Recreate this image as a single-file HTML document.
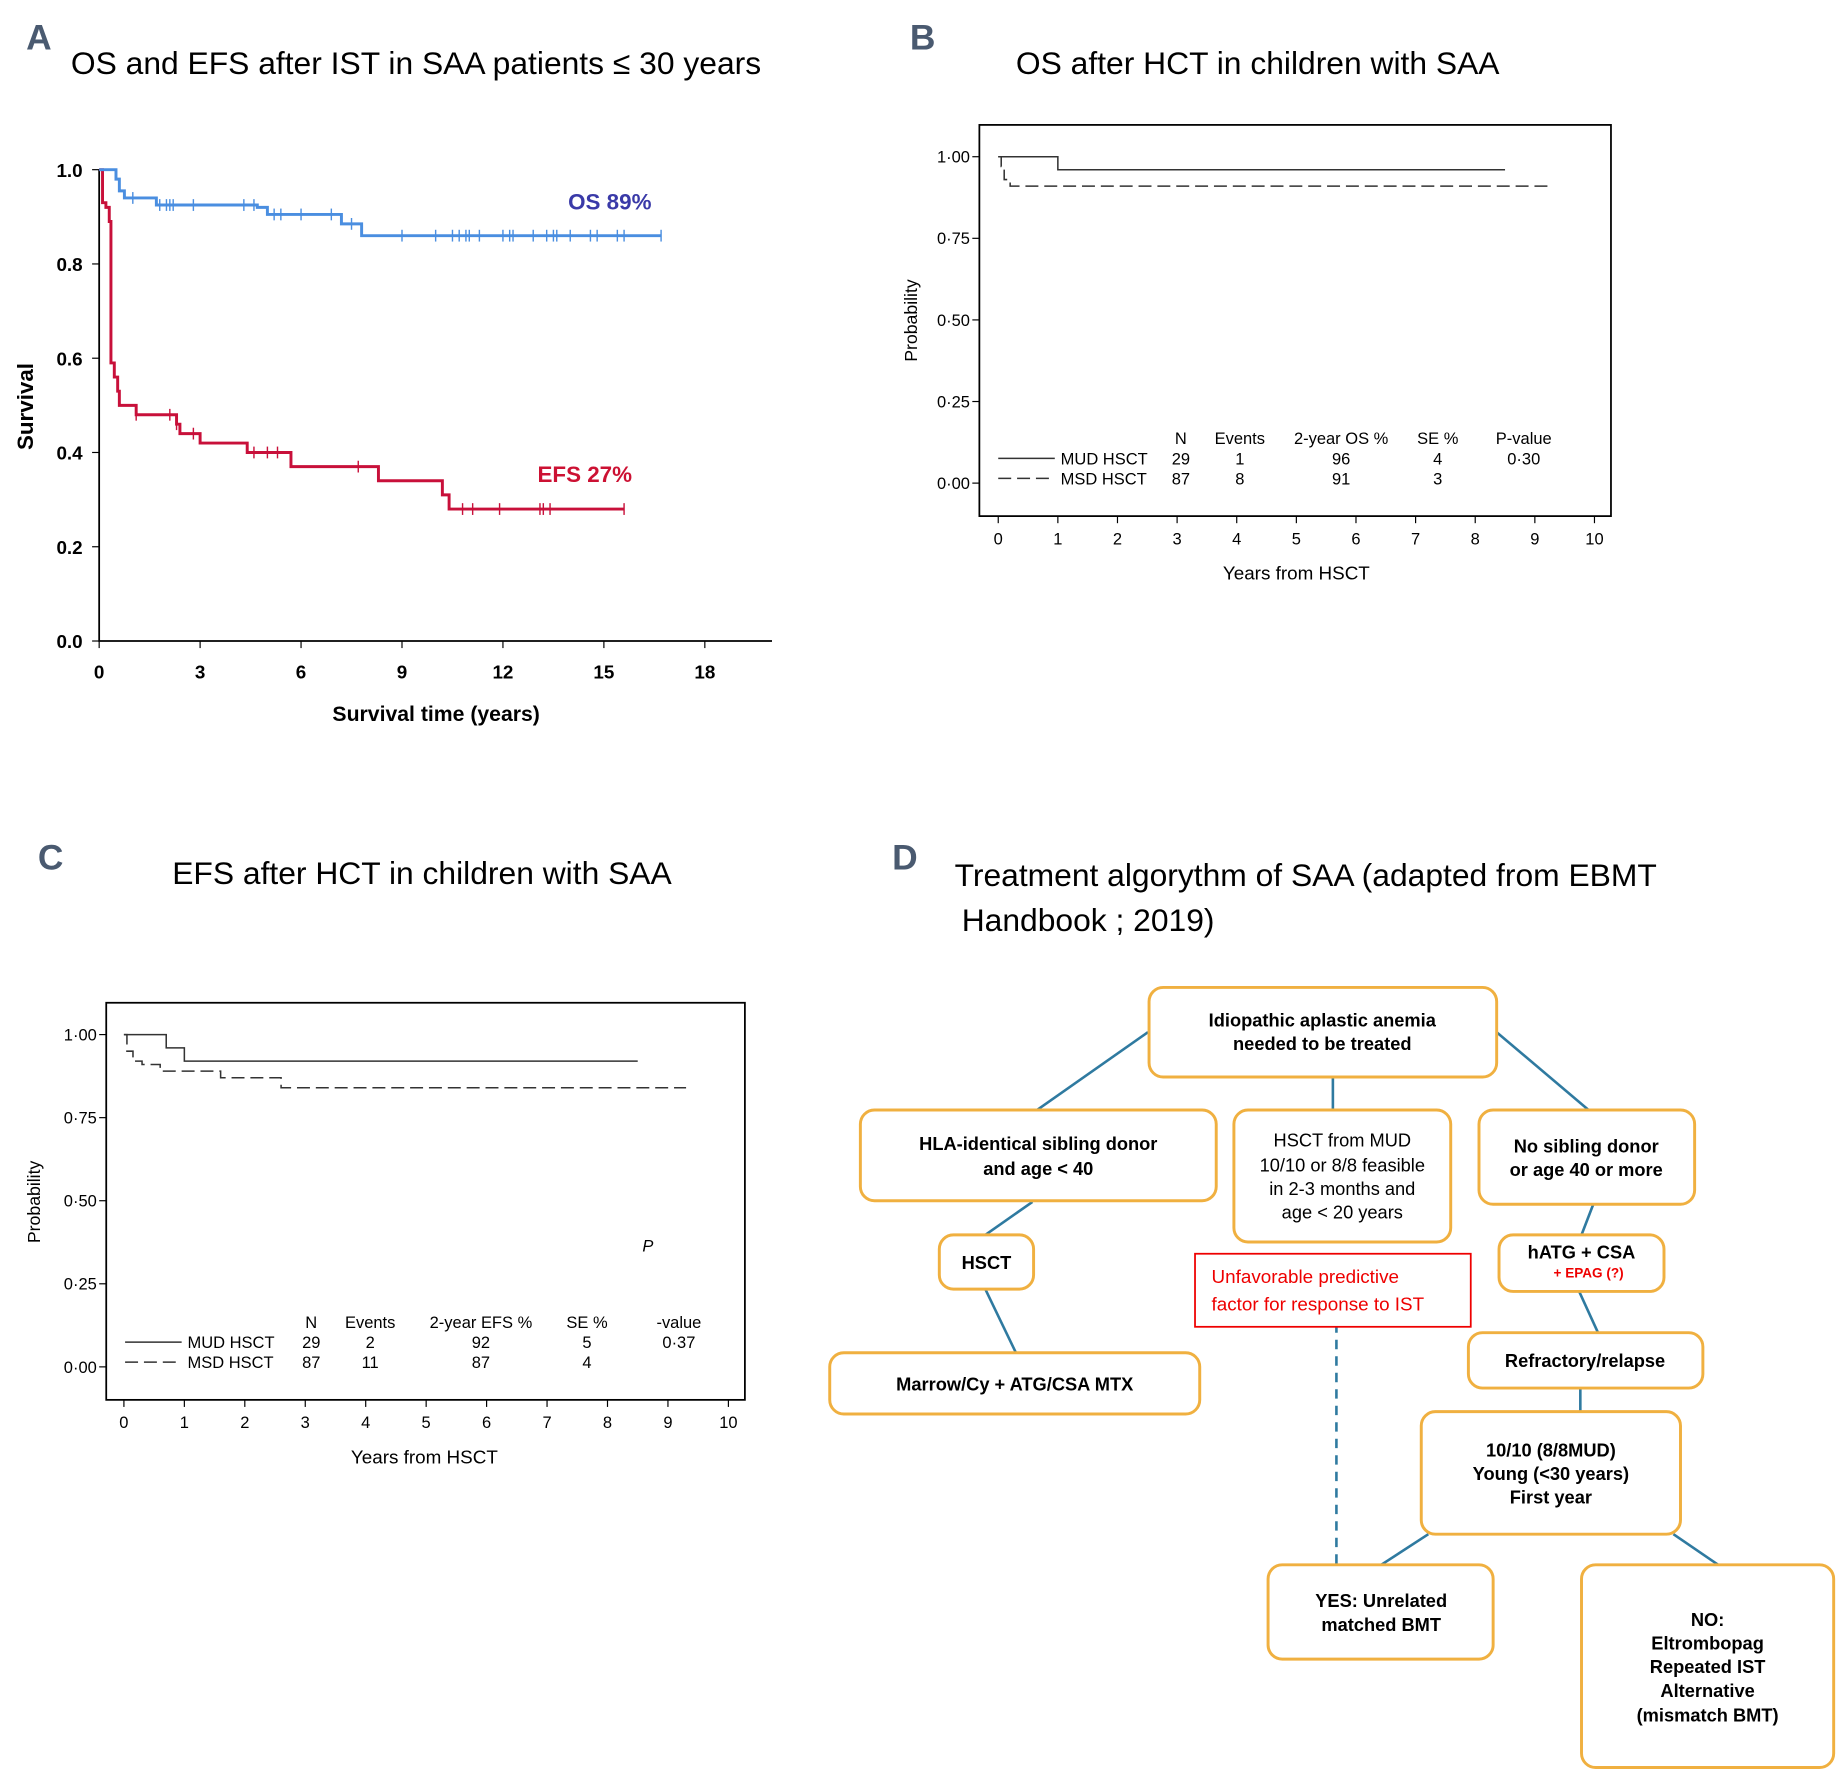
<!DOCTYPE html>
<html><head><meta charset="utf-8">
<style>
html,body{margin:0;padding:0;background:#fff;}
svg{display:block;}
.t{font-family:"Liberation Sans",sans-serif;}
.h{font-family:"Liberation Sans",sans-serif;font-size:27px;fill:#000;}
.L{font-family:"Liberation Sans",sans-serif;font-size:30px;font-weight:bold;fill:#4a5a70;}
.ax{font-family:"Liberation Sans",sans-serif;font-size:14px;fill:#000;}
.bx{fill:#fff;stroke:#f0b040;stroke-width:2.5;}
.ft{font-family:"Liberation Sans",sans-serif;font-size:15.5px;font-weight:bold;fill:#000;text-anchor:middle;}
.fn{font-family:"Liberation Sans",sans-serif;font-size:15.5px;font-weight:normal;fill:#000;text-anchor:middle;}
.ln{stroke:#2f7aa0;stroke-width:2.2;fill:none;}
</style></head>
<body>
<svg id="root" width="1848" height="1784" viewBox="0 0 1568 1514" xmlns="http://www.w3.org/2000/svg">
<g id="pA">
<text class="L" x="22" y="42">A</text>
<text class="h" x="60" y="63">OS and EFS after IST in SAA patients ≤ 30 years</text>
<text class="t" x="28" y="345" font-size="19" font-weight="bold" transform="rotate(-90 28 345)" text-anchor="middle">Survival</text>
<text class="t" x="370" y="612" font-size="18" font-weight="bold" text-anchor="middle">Survival time (years)</text>
<text class="t" x="482" y="178" font-size="19" font-weight="bold" fill="#3a3aa8">OS 89%</text>
<text class="t" x="456" y="409" font-size="19" font-weight="bold" fill="#cc1133">EFS 27%</text>
</g>
<g id="pB">
<text class="L" x="772" y="42">B</text>
<text class="h" x="862" y="63">OS after HCT in children with SAA</text>
<rect x="831" y="106" width="536" height="332" fill="none" stroke="#000" stroke-width="1.5"/>
<text class="t" x="778" y="272" font-size="15" transform="rotate(-90 778 272)" text-anchor="middle">Probability</text>
<text class="t" x="1100" y="492" font-size="16" text-anchor="middle">Years from HSCT</text>
</g>
<g id="pC">
<text class="L" x="32" y="738">C</text>
<text class="h" x="146" y="750">EFS after HCT in children with SAA</text>
<rect x="90" y="851" width="542" height="337" fill="none" stroke="#000" stroke-width="1.5"/>
<text class="t" x="34" y="1020" font-size="15" transform="rotate(-90 34 1020)" text-anchor="middle">Probability</text>
<text class="t" x="360" y="1242" font-size="16" text-anchor="middle">Years from HSCT</text>
</g>
<g id="pD">
<text class="L" x="757" y="738">D</text>
<text class="h" x="810" y="752">Treatment algorythm of SAA (adapted from EBMT</text>
<text class="h" x="816" y="790">Handbook ; 2019)</text>
<g>
<line class="ln" x1="974" y1="876" x2="880" y2="942"/>
<line class="ln" x1="1131" y1="914" x2="1131" y2="942"/>
<line class="ln" x1="1270" y1="876" x2="1348" y2="942"/>
<line class="ln" x1="876" y1="1020" x2="836" y2="1048"/>
<line class="ln" x1="836" y1="1094" x2="862" y2="1148"/>
<line class="ln" x1="1352" y1="1022" x2="1342" y2="1048"/>
<line class="ln" x1="1340" y1="1096" x2="1356" y2="1131"/>
<line class="ln" x1="1341" y1="1178" x2="1341" y2="1198"/>
<line class="ln" x1="1212" y1="1302" x2="1172" y2="1328"/>
<line class="ln" x1="1420" y1="1302" x2="1458" y2="1328"/>
<line class="ln" x1="1134" y1="1095" x2="1134" y2="1328" stroke-dasharray="8,6"/>
</g>
<rect class="bx" x="975" y="838" width="295" height="76" rx="12"/>
<text class="ft" x="1122" y="871">Idiopathic aplastic anemia</text><text class="ft" x="1122" y="891">needed to be treated</text>
<rect class="bx" x="730" y="942" width="302" height="77" rx="12"/>
<text class="ft" x="881" y="976">HLA-identical sibling donor</text><text class="ft" x="881" y="997">and age &lt; 40</text>
<rect class="bx" x="1047" y="942" width="184" height="112" rx="12"/>
<text class="fn" x="1139" y="973">HSCT from MUD</text><text class="fn" x="1139" y="994">10/10 or 8/8 feasible</text><text class="fn" x="1139" y="1014">in 2-3 months and</text><text class="fn" x="1139" y="1034">age &lt; 20 years</text>
<rect class="bx" x="1255" y="942" width="183" height="80" rx="12"/>
<text class="ft" x="1346" y="978">No sibling donor</text><text class="ft" x="1346" y="998">or age 40 or more</text>
<rect class="bx" x="797" y="1048" width="80" height="46" rx="12"/>
<text class="ft" x="837" y="1077">HSCT</text>
<rect x="1014" y="1064" width="234" height="62" fill="#fff" stroke="#e00" stroke-width="1.5"/>
<text class="t" x="1028" y="1089" font-size="16" fill="#e00">Unfavorable predictive</text><text class="t" x="1028" y="1112" font-size="16" fill="#e00">factor for response to IST</text>
<rect class="bx" x="1272" y="1048" width="140" height="48" rx="12"/>
<text class="ft" x="1342" y="1068">hATG + CSA</text><text class="t" x="1348" y="1084" font-size="11.5" font-weight="bold" fill="#e00" text-anchor="middle">+ EPAG (?)</text>
<rect class="bx" x="704" y="1148" width="314" height="52" rx="12"/>
<text class="ft" x="861" y="1180">Marrow/Cy + ATG/CSA MTX</text>
<rect class="bx" x="1246" y="1131" width="199" height="47" rx="12"/>
<text class="ft" x="1345" y="1160">Refractory/relapse</text>
<rect class="bx" x="1206" y="1198" width="220" height="104" rx="12"/>
<text class="ft" x="1316" y="1236">10/10 (8/8MUD)</text><text class="ft" x="1316" y="1256">Young (&lt;30 years)</text><text class="ft" x="1316" y="1276">First year</text>
<rect class="bx" x="1076" y="1328" width="191" height="80" rx="12"/>
<text class="ft" x="1172" y="1364">YES: Unrelated</text><text class="ft" x="1172" y="1384">matched BMT</text>
<rect class="bx" x="1342" y="1328" width="214" height="172" rx="12"/>
<text class="ft" x="1449" y="1380">NO:</text><text class="ft" x="1449" y="1400">Eltrombopag</text><text class="ft" x="1449" y="1420">Repeated IST</text><text class="ft" x="1449" y="1440">Alternative</text><text class="ft" x="1449" y="1461">(mismatch BMT)</text>
</g>
</svg>
<script>
const aXTicks = [0,3,6,9,12,15,18];
const aYTicks = [0.0,0.2,0.4,0.6,0.8,1.0];
const osTimes = [0,0.5,0.6,0.75,1.7,4.7,5.0,7.2,7.8,16.7];
const osSurv  = [1,0.98,0.955,0.94,0.925,0.92,0.905,0.885,0.86,0.86];
const osCens  = [1.0,1.8,2.0,2.1,2.2,2.8,4.3,4.6,5.2,5.4,6.0,6.9,7.5,9.0,10.0,10.5,10.7,10.9,11.0,11.3,12.0,12.2,12.3,12.9,13.3,13.5,13.6,14.0,14.6,14.8,15.4,15.6,16.7];
const efsTimes = [0,0.1,0.2,0.3,0.35,0.45,0.55,0.6,1.1,2.3,2.4,3.0,4.4,5.7,8.3,10.2,10.4,15.6];
const efsSurv  = [1,0.93,0.92,0.89,0.59,0.56,0.53,0.5,0.48,0.46,0.44,0.42,0.40,0.37,0.34,0.31,0.28,0.28];
const efsCens  = [1.1,2.1,2.3,2.8,4.6,5.0,5.3,7.7,10.8,11.1,11.9,13.1,13.2,13.4,15.6];
const bXTicks = [0,1,2,3,4,5,6,7,8,9,10];
const bYTicks = [0,0.25,0.5,0.75,1.0];
const bYLabels = ["0·00","0·25","0·50","0·75","1·00"];
const bMudT = [0,1,8.5];
const bMudS = [1,0.96,0.96];
const bMsdT = [0,0.05,0.1,0.2,9.3];
const bMsdS = [1,0.97,0.93,0.91,0.91];
const cMudT = [0,0.7,1.0,8.5];
const cMudS = [1,0.96,0.92,0.92];
const cMsdT = [0,0.05,0.15,0.3,0.6,1.6,2.6,9.3];
const cMsdS = [1,0.95,0.92,0.91,0.89,0.87,0.84,0.84];

const NS="http://www.w3.org/2000/svg";
const root=document.getElementById('root');
function mk(tag,attrs,parent){const e=document.createElementNS(NS,tag);for(const k in attrs)e.setAttribute(k,attrs[k]);(parent||root).appendChild(e);return e;}
function stepPath(T,S,sx,sy){let d='M'+sx(T[0])+','+sy(S[0]);for(let i=1;i<T.length;i++){d+=' H'+sx(T[i])+' V'+sy(S[i]);}return d;}
function stepVal(T,S,t){let v=S[0];for(let i=0;i<T.length;i++){if(T[i]<=t)v=S[i];}return v;}

const gA=document.getElementById('pA');
const ax=t=>84+t*(598-84)/18, ay=v=>544-v*400;
let e=mk('path',{d:'M'+ax(0)+','+ay(1)+' V'+ay(0)+' H655',stroke:'#000','stroke-width':1.5,fill:'none'},gA);

aXTicks.forEach(t=>{mk('line',{x1:ax(t),x2:ax(t),y1:544,y2:550,stroke:'#000'},gA);
 const l=mk('text',{x:ax(t),y:576,'text-anchor':'middle',class:'t','font-size':16,'font-weight':'bold'},gA);l.textContent=t;
 });
aYTicks.forEach(v=>{mk('line',{x1:78,x2:84,y1:ay(v),y2:ay(v),stroke:'#000'},gA);
 const l=mk('text',{x:70,y:ay(v)+6,'text-anchor':'end',class:'t','font-size':16,'font-weight':'bold'},gA);l.textContent=v.toFixed(1);
 });
e=mk('path',{d:stepPath(efsTimes,efsSurv,ax,ay),stroke:'#c8103a','stroke-width':2.5,fill:'none'},gA);

efsCens.forEach(t=>{const y=ay(stepVal(efsTimes,efsSurv,t));mk('line',{x1:ax(t),x2:ax(t),y1:y-5,y2:y+5,stroke:'#c8103a','stroke-width':1.2},gA);});
e=mk('path',{d:stepPath(osTimes,osSurv,ax,ay),stroke:'#4a8ee0','stroke-width':2.5,fill:'none'},gA);

osCens.forEach(t=>{const y=ay(stepVal(osTimes,osSurv,t));mk('line',{x1:ax(t),x2:ax(t),y1:y-5,y2:y+5,stroke:'#4a8ee0','stroke-width':1.2},gA);});

function kmPanel(g,x0,x10,y1,y0,bottom,left,mudT,mudS,msdT,msdS,name){
 const sx=t=>x0+t*(x10-x0)/10, sy=v=>y0-v*(y0-y1);
 bXTicks.forEach(t=>{mk('line',{x1:sx(t),x2:sx(t),y1:bottom,y2:bottom+6,stroke:'#000'},g);
  const l=mk('text',{x:sx(t),y:bottom+24,'text-anchor':'middle',class:'ax'},g);l.textContent=t;
  });
 bYTicks.forEach((v,i)=>{mk('line',{x1:left-6,x2:left,y1:sy(v),y2:sy(v),stroke:'#000'},g);
  const l=mk('text',{x:left-8,y:sy(v)+5,'text-anchor':'end',class:'ax'},g);l.textContent=bYLabels[i];
  });
 let p=mk('path',{d:stepPath(mudT,mudS,sx,sy),stroke:'#333','stroke-width':1.3,fill:'none'},g);
 
 p=mk('path',{d:stepPath(msdT,msdS,sx,sy),stroke:'#333','stroke-width':1.3,fill:'none','stroke-dasharray':'11,5'},g);
 
}
const gB=document.getElementById('pB'), gC=document.getElementById('pC');
kmPanel(gB,847,1353,133,410,438,831,bMudT,bMudS,bMsdT,bMsdS,'b');
kmPanel(gC,105,618,878,1160,1188,90,cMudT,cMudS,cMsdT,cMsdS,'c');

function legend(g,x,y,cols,rows,name){
 cols.forEach(c=>{const t=mk('text',{x:c[0],y:y,'text-anchor':'middle',class:'ax'},g);t.textContent=c[1];});
 rows.forEach((r,i)=>{const yy=y+17*(i+1);
  mk('line',{x1:x,x2:x+48,y1:yy-5,y2:yy-5,stroke:'#333','stroke-width':1.3,'stroke-dasharray':i?'11,5':''},g);
  const lt=mk('text',{x:x+53,y:yy,class:'ax'},g);lt.textContent=r[0];
  
  r.slice(1).forEach((v,j)=>{const t=mk('text',{x:cols[j][0],y:yy,'text-anchor':'middle',class:'ax'},g);t.textContent=v;});});
}
legend(gB,847,377,[[1002,'N'],[1052,'Events'],[1138,'2-year OS %'],[1220,'SE %'],[1293,'P-value']],
 [['MUD HSCT','29','1','96','4','0·30'],['MSD HSCT','87','8','91','3','']],'b');
legend(gC,106,1127,[[264,'N'],[314,'Events'],[408,'2-year EFS %'],[498,'SE %'],[576,'-value']],
 [['MUD HSCT','29','2','92','5','0·37'],['MSD HSCT','87','11','87','4','']],'c');
const pP=mk('text',{x:545,y:1062,class:'ax','font-style':'italic'},gC);pP.textContent='P';
</script>
</body></html>
